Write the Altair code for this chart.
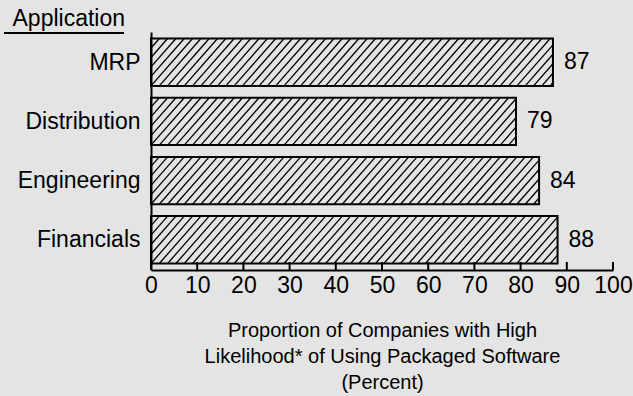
import altair as alt
import pandas as pd

apps = ["MRP", "Distribution", "Engineering", "Financials"]
values = [87, 79, 84, 88]
tick_values = [0, 10, 20, 30, 40, 50, 60, 70, 80, 90, 100]
x_title = ["Proportion of Companies with High",
           "Likelihood* of Using Packaged Software",
           "(Percent)"]
y_title = "Application"

FONT = "Liberation Sans"
BG = "#e4e4e4"
LEFT, TOP = 151, 32
W, H = 462, 238
HALF = 0.40      # half bar thickness in y units
SLANT = 9        # hatch horizontal run across the bar (x units)
STEP = 1.8       # hatch spacing (x units)

df = pd.DataFrame({"app": apps, "value": values})
base = alt.Chart(df).transform_window(
    rn="row_number()"
).transform_calculate(idx="datum.rn - 1")

label_expr = "[" + ",".join("'" + a + "'" for a in apps) + "][datum.value]"

yscale = alt.Scale(domain=[-0.51, 3.51], reverse=True, nice=False, zero=False)
xscale = alt.Scale(domain=[0, 100], nice=False)

bars = base.mark_bar(fill=None, stroke="black", strokeWidth=2).encode(
    x=alt.X("value:Q", scale=xscale,
            axis=alt.Axis(values=tick_values, title=x_title, ticks=False,
                          domainColor="black", domainWidth=2,
                          labelFontSize=23, labelColor="black", labelFont=FONT,
                          labelPadding=4, grid=False, labelOverlap=False,
                          labelFlush=False,
                          titleFont=FONT, titleFontSize=20, titleFontWeight="normal",
                          titleColor="black", titleLineHeight=26, titlePadding=23)),
    x2=alt.value(0),
    y=alt.Y("y1:Q", scale=yscale,
            axis=alt.Axis(values=[0, 1, 2, 3], labelExpr=label_expr, ticks=False,
                          domainColor="black", domainWidth=2, grid=False,
                          labelFontSize=23, labelColor="black", labelFont=FONT,
                          labelPadding=11, labelOverlap=False, labelFlush=False,
                          title=y_title, titleAngle=0, titleAlign="left",
                          titleX=12 - LEFT, titleY=25 - TOP,
                          titleBaseline="alphabetic",
                          titleFont=FONT, titleFontSize=23, titleFontWeight="normal",
                          titleColor="black")),
    y2="y2:Q",
).transform_calculate(y1=f"datum.idx - {HALF}", y2=f"datum.idx + {HALF}")

hatch = base.transform_calculate(
    h=f"sequence(-{SLANT}, datum.value, {STEP})"
).transform_flatten(["h"]).transform_calculate(
    ts=f"max(0, -datum.h / {SLANT})",
    te=f"min(1, (datum.value - datum.h) / {SLANT})",
).transform_filter("datum.te > datum.ts").transform_calculate(
    hx1=f"datum.h + datum.ts * {SLANT}",
    hx2=f"datum.h + datum.te * {SLANT}",
    hy1=f"datum.idx + {HALF} - datum.ts * {2 * HALF}",
    hy2=f"datum.idx + {HALF} - datum.te * {2 * HALF}",
).mark_rule(color="black", strokeWidth=1.3).encode(
    x=alt.X("hx1:Q", scale=xscale),
    x2="hx2:Q",
    y=alt.Y("hy1:Q", scale=yscale),
    y2="hy2:Q",
)

labels = base.mark_text(align="left", baseline="middle", dx=11, fontSize=23,
                        font=FONT, color="black").encode(
    x=alt.X("value:Q", scale=xscale),
    y=alt.Y("idx:Q", scale=yscale),
    text="value:Q",
)

ticks = alt.Chart(pd.DataFrame({"t": tick_values})).mark_rule(
    color="black", strokeWidth=2
).encode(
    x=alt.X("t:Q", scale=xscale),
    y=alt.value(H),
    y2=alt.value(H - 8),
)

underline = alt.Chart(pd.DataFrame({"a": [0]})).mark_rule(
    color="black", strokeWidth=2
).encode(
    x=alt.value(4 - LEFT), x2=alt.value(124 - LEFT), y=alt.value(33 - TOP),
)

chart = alt.layer(hatch, bars, labels, ticks, underline).properties(
    width=W, height=H,
    background=BG,
    padding={"left": LEFT, "top": TOP, "right": 633 - LEFT - W,
             "bottom": 396 - TOP - H},
    autosize=alt.AutoSizeParams(type="none"),
).configure_view(stroke=None)

chart.save("out.html", embed_options={"renderer": "svg", "actions": False})
